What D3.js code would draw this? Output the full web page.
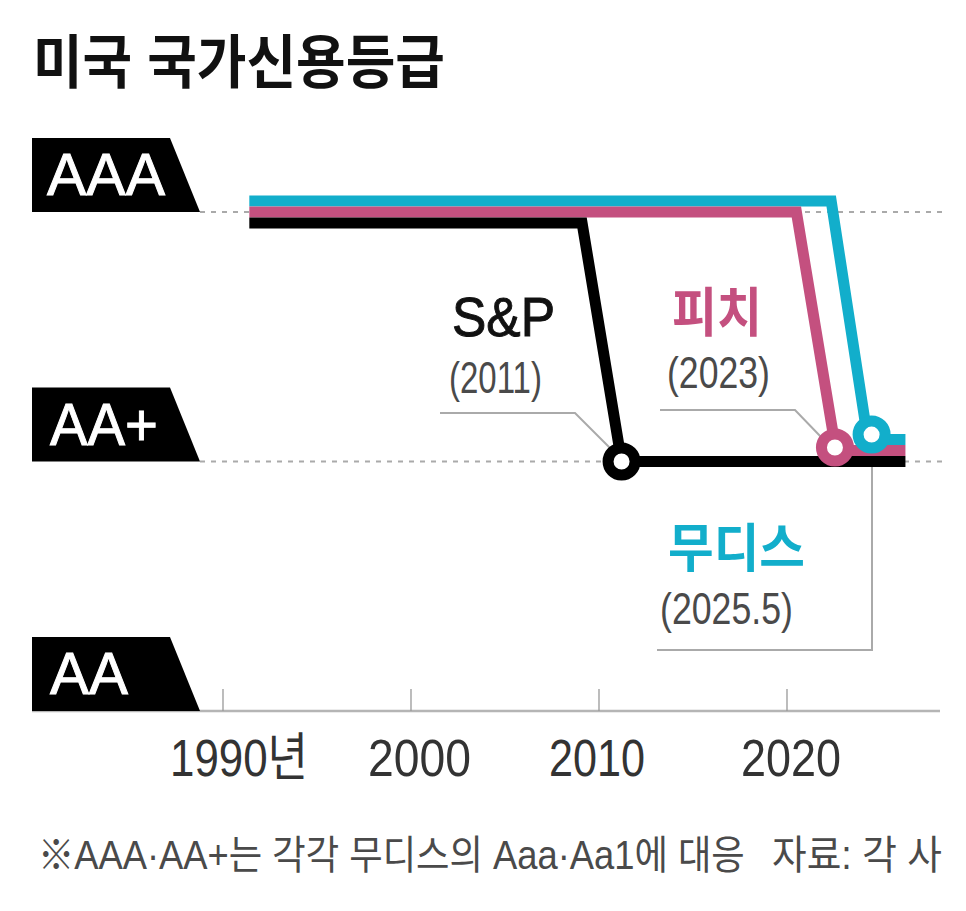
<!DOCTYPE html>
<html lang="ko">
<head>
<meta charset="utf-8">
<script src="https://cdn.jsdelivr.net/npm/d3@7"></script>
<style>
body { margin: 0; background: #fff; }
svg { display: block; }
text { font-family: "Liberation Sans", "Noto Sans CJK KR", sans-serif; }
</style>
</head>
<body>
<div id="chart"></div>
<script>
var ratingLabels = ["AA", "AA+", "AAA"];
var tickYears = [1990, 2000, 2010, 2020];
var tickLabels = ["1990년", "2000", "2010", "2020"];

// [year, rating level]; 0 = AA, 1 = AA+, 2 = AAA. Fractions are the stacked line offsets
var spYears = [1991.4, 2009.1, 2011.2, 2026.3];
var spLevels = [1.956, 1.956, 1, 1];
var fitchYears = [1991.4, 2020.5, 2022.6, 2026.3];
var fitchLevels = [2, 2, 1.044, 1.044];
var moodysYears = [1991.4, 2022.35, 2024.3, 2026.3];
var moodysLevels = [2.044, 2.044, 1.088, 1.088];

// Downgrade markers
var spMark = [2011.2, 1];
var fitchMark = [2022.55, 1.056];
var moodysMark = [2024.5, 1.108];

var black = "#000", pink = "#c4507f", blue = "#12aecb", grey = "#b5b5b5", textGrey = "#4a4a4a";

var svg = d3.select("#chart").append("svg").attr("width", 966).attr("height", 911);
var x = d3.scaleLinear().domain([1990, 2020]).range([223, 787]);
var y = d3.scaleLinear().domain([0, 2]).range([711, 212]);

// Text squeezed to the width it has in the print graphic
function label(str, left, base, size, width, color, weight) {
    var t = svg.append("text")
        .attr("font-size", size)
        .attr("font-weight", weight || 400)
        .attr("fill", color)
        .text(str);
    var k = width / t.node().getComputedTextLength();
    return t.attr("transform", "translate(" + left + "," + base + ") scale(" + k + ",1)");
}

label("미국 국가신용등급", 33, 83, 58, 412, "#111", 700);

// Dotted level guides
[1, 2].forEach(function(level) {
    svg.append("line")
        .attr("x1", 200).attr("x2", 945)
        .attr("y1", y(level)).attr("y2", y(level))
        .attr("stroke", "#aaa").attr("stroke-width", 2)
        .attr("stroke-dasharray", "5 6");
});

// Axis
svg.append("line")
    .attr("x1", 32).attr("x2", 940).attr("y1", y(0)).attr("y2", y(0))
    .attr("stroke", grey).attr("stroke-width", 2.5);
svg.selectAll(".tick").data(tickYears).enter().append("line")
    .attr("class", "tick")
    .attr("x1", x).attr("x2", x)
    .attr("y1", y(0) - 22).attr("y2", y(0))
    .attr("stroke", "#999").attr("stroke-width", 1.3);
var tickLeft = [170, 368, 549, 741], tickWidth = [138, 103, 96, 100];
tickLabels.forEach(function(t, i) {
    label(t, tickLeft[i], 776, 52, tickWidth[i], "#333");
});

// Rating tabs
var tabs = svg.selectAll(".tab").data(ratingLabels).enter().append("path")
    .attr("class", "tab")
    .attr("fill", black)
    .attr("d", function(d, i) {
        var b = y(i);
        return "M32," + (b - 74) + "H170L200," + b + "H32Z";
    });
var tabWidth = [78, 108, 118], tabLeft = [50, 50, 47];
ratingLabels.forEach(function(t, i) {
    label(t, tabLeft[i], y(i) - 17, 60, tabWidth[i], "#fff")
        .attr("stroke", "#fff").attr("stroke-width", 1);
});

// Leader lines, under the rating lines
var leader = d3.line();
var leaders = [
    [[440, 413], [575, 413], [612, 450]],
    [[660, 410], [795, 410], [822, 438]],
    [[657, 650], [872, 650], [872, y(1)]]
];
leaders.forEach(function(p) {
    svg.append("path").attr("d", leader(p))
        .attr("fill", "none").attr("stroke", "#aaa").attr("stroke-width", 2);
});

// Rating lines
var line = d3.line()
    .x(function(d) { return x(d[0]); })
    .y(function(d) { return y(d[1]); });
var series = [
    { years: moodysYears, levels: moodysLevels, color: blue, mark: moodysMark },
    { years: fitchYears, levels: fitchLevels, color: pink, mark: fitchMark },
    { years: spYears, levels: spLevels, color: black, mark: spMark }
];
svg.selectAll(".rating").data(series).enter().append("path")
    .attr("class", "rating")
    .attr("d", function(s) { return line(d3.zip(s.years, s.levels)); })
    .attr("fill", "none")
    .attr("stroke", function(s) { return s.color; })
    .attr("stroke-width", 11)
    .attr("stroke-linejoin", "miter");
svg.selectAll(".mark").data(series).enter().append("circle")
    .attr("class", "mark")
    .attr("cx", function(s) { return x(s.mark[0]); })
    .attr("cy", function(s) { return y(s.mark[1]); })
    .attr("r", 13.5)
    .attr("fill", "#fff")
    .attr("stroke", function(s) { return s.color; })
    .attr("stroke-width", 11);

// Direct labels
label("S&P", 452, 336, 56, 103, "#111").attr("stroke", "#111").attr("stroke-width", 1);
label("(2011)", 449, 393, 45, 93, textGrey);
label("피치", 672, 332, 54, 90, pink, 700);
label("(2023)", 667, 388, 45, 103, textGrey);
label("무디스", 668, 567, 52, 137, blue, 700);
label("(2025.5)", 660, 624, 45, 133, textGrey);

// Footnote
label("※AAA·AA+는 각각 무디스의 Aaa·Aa1에 대응", 38, 869, 40, 707, textGrey);
label("자료: 각 사", 772, 869, 40, 170, textGrey);
</script>
</body>
</html>
